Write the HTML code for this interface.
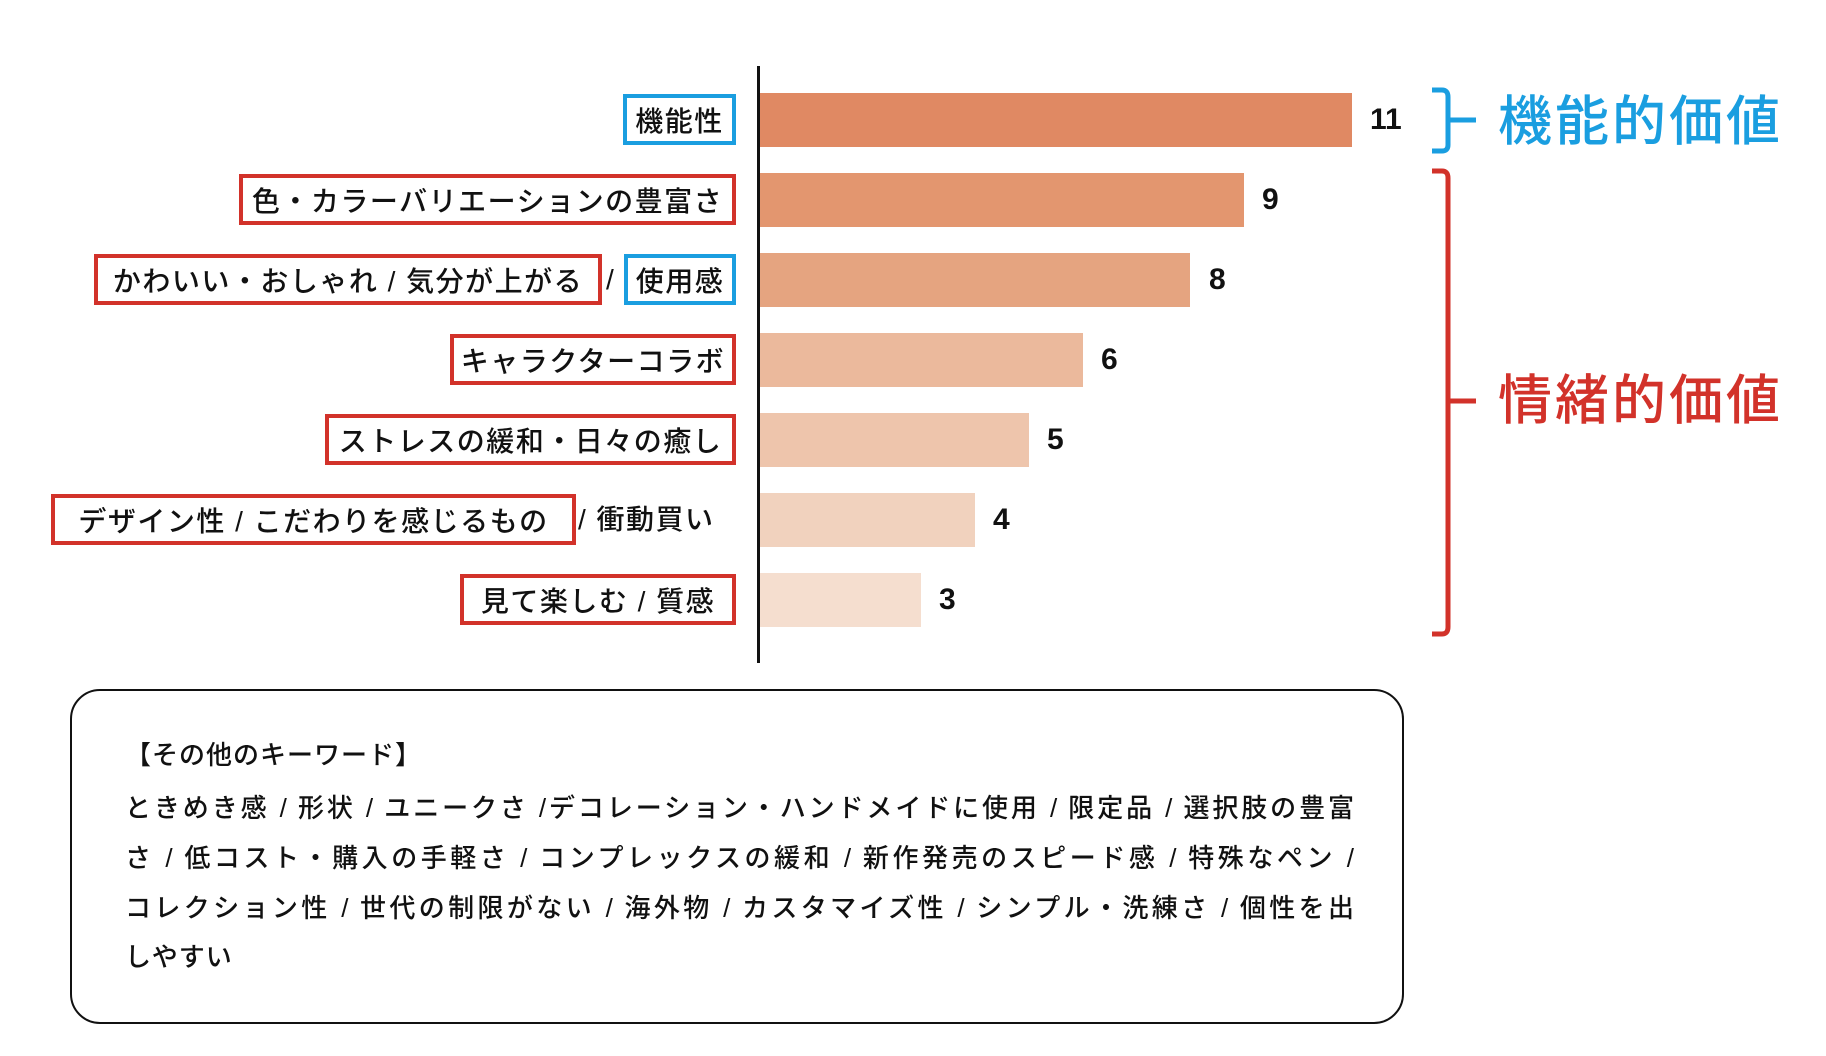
<!DOCTYPE html>
<html><head><meta charset="utf-8"><style>
body{margin:0;width:1826px;height:1056px;background:#fff;position:relative;overflow:hidden;font-family:"Liberation Sans","Noto Sans CJK JP",sans-serif;color:#111}
.bar{position:absolute;left:760px;height:54px}
.val{position:absolute;font-size:30px;font-weight:700;line-height:54px}
.lb{position:absolute;height:51px;box-sizing:border-box;border:4px solid #d2322a;display:flex;align-items:center;justify-content:center;font-size:28px;font-weight:500;letter-spacing:1.5px;white-space:nowrap;background:#fff}
.bl{border-color:#1a9ee0}
.tx{position:absolute;font-size:28px;font-weight:500;letter-spacing:1.5px;white-space:nowrap;line-height:51px}
.big{position:absolute;font-size:54px;font-weight:500;letter-spacing:3px;white-space:nowrap}
.box{position:absolute;left:70px;top:689px;width:1334px;height:335px;box-sizing:border-box;border:2.5px solid #111;border-radius:30px}
.ln{position:absolute;left:125px;width:1230px;font-size:26px;font-weight:500;white-space:nowrap;line-height:50px;letter-spacing:1px}
.j{text-align:justify;text-align-last:justify;white-space:normal}
</style></head><body>
<div style="position:absolute;left:757px;top:66px;width:3px;height:597px;background:#111"></div>

<div class="bar" style="top:93px;width:592px;background:#E08963"></div>
<div class="bar" style="top:173px;width:484px;background:#E3966F"></div>
<div class="bar" style="top:253px;width:430px;background:#E5A480"></div>
<div class="bar" style="top:333px;width:323px;background:#EBB99C"></div>
<div class="bar" style="top:413px;width:269px;background:#EEC5AC"></div>
<div class="bar" style="top:493px;width:215px;background:#F1D2BE"></div>
<div class="bar" style="top:573px;width:161px;background:#F5DECF"></div>

<div class="val" style="left:1370px;top:93px">11</div>
<div class="val" style="left:1262px;top:173px">9</div>
<div class="val" style="left:1209px;top:253px">8</div>
<div class="val" style="left:1101px;top:333px">6</div>
<div class="val" style="left:1047px;top:413px">5</div>
<div class="val" style="left:993px;top:493px">4</div>
<div class="val" style="left:939px;top:573px">3</div>

<div class="lb bl" style="left:623px;width:113px;top:94px">機能性</div>
<div class="lb" style="left:239px;width:497px;top:174px">色・カラーバリエーションの豊富さ</div>
<div class="lb" style="left:94px;width:508px;top:254px">かわいい・おしゃれ / 気分が上がる</div>
<div class="tx" style="left:606px;top:254px">/</div>
<div class="lb bl" style="left:624px;width:112px;top:254px">使用感</div>
<div class="lb" style="left:450px;width:286px;top:334px">キャラクターコラボ</div>
<div class="lb" style="left:325px;width:411px;top:414px">ストレスの緩和・日々の癒し</div>
<div class="lb" style="left:51px;width:525px;top:494px">デザイン性 / こだわりを感じるもの</div>
<div class="tx" style="left:578px;top:494px">/ 衝動買い</div>
<div class="lb" style="left:460px;width:276px;top:574px">見て楽しむ / 質感</div>

<svg style="position:absolute;left:0;top:0" width="1826" height="1056">
<path d="M1432 90 H1442 Q1448 90 1448 97 V145 Q1448 151 1442 151 H1432 M1448 120 H1476" fill="none" stroke="#1a9ee0" stroke-width="5"/>
<path d="M1432 171 H1442 Q1448 171 1448 178 V627 Q1448 634 1442 634 H1432 M1448 401 H1476" fill="none" stroke="#d2322a" stroke-width="5"/>
</svg>
<div class="big" style="left:1498px;top:77px;color:#1a9ee0">機能的価値</div>
<div class="big" style="left:1498px;top:356px;color:#d2322a">情緒的価値</div>

<div class="box"></div>
<div class="ln" style="top:730px">【その他のキーワード】</div>
<div class="ln j" style="top:783px">ときめき感 / 形状 / ユニークさ /デコレーション・ハンドメイドに使用 / 限定品 / 選択肢の豊富</div>
<div class="ln j" style="top:833px">さ / 低コスト・購入の手軽さ / コンプレックスの緩和 / 新作発売のスピード感 / 特殊なペン /</div>
<div class="ln j" style="top:883px">コレクション性 / 世代の制限がない / 海外物 / カスタマイズ性 / シンプル・洗練さ / 個性を出</div>
<div class="ln" style="top:932px">しやすい</div>
</body></html>
